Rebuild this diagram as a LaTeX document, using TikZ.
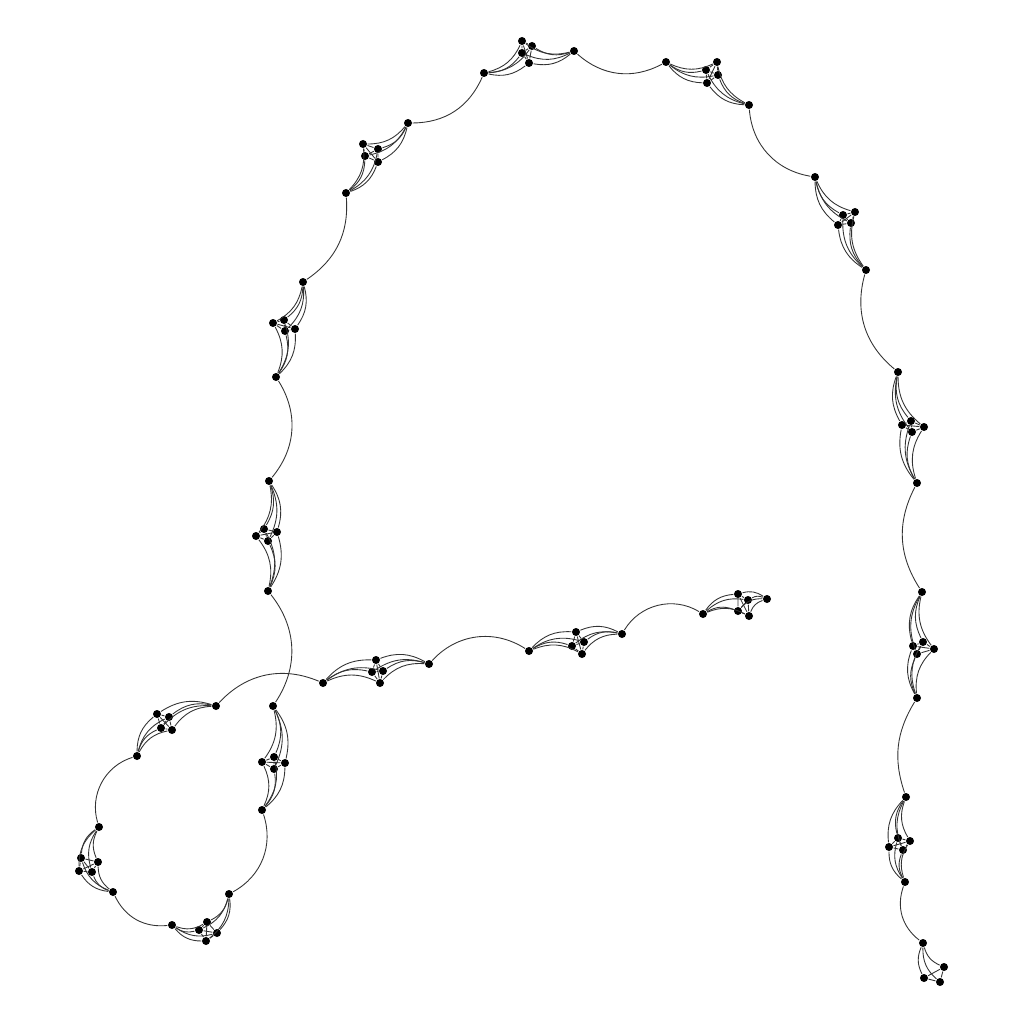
\documentclass[tikz,border=0pt]{standalone}
\begin{document}
\begin{tikzpicture}[x=0.1mm,y=-0.1mm,
    vtx/.style={circle,fill=black,inner sep=0pt,minimum size=0.8mm},
    ln/.style={line width=0.25pt,black!80}]
\useasboundingbox (0,0) rectangle (1024,1024);

% gadgets: x0 entry, x1..x4 inner, x5 exit
\node[vtx] (a0) at (767,599) {};
\node[vtx] (a1) at (738,594) {};
\node[vtx] (a2) at (748,600) {};
\node[vtx] (a3) at (738,611) {};
\node[vtx] (a4) at (749,616) {};
\node[vtx] (a5) at (703,614) {};

\node[vtx] (b0) at (622,634) {};
\node[vtx] (b1) at (576,632) {};
\node[vtx] (b2) at (584,642) {};
\node[vtx] (b3) at (572,646) {};
\node[vtx] (b4) at (582,654) {};
\node[vtx] (b5) at (529,651) {};

\node[vtx] (c0) at (429,664) {};
\node[vtx] (c1) at (376,660) {};
\node[vtx] (c2) at (383,671) {};
\node[vtx] (c3) at (372,672) {};
\node[vtx] (c4) at (380,683) {};
\node[vtx] (c5) at (323,683) {};

\node[vtx] (d0) at (216,706) {};
\node[vtx] (d1) at (157,714) {};
\node[vtx] (d2) at (169,717) {};
\node[vtx] (d3) at (161,728) {};
\node[vtx] (d4) at (172,730) {};
\node[vtx] (d5) at (137,756) {};

\node[vtx] (e0) at (99,827) {};
\node[vtx] (e1) at (81,858) {};
\node[vtx] (e2) at (98,862) {};
\node[vtx] (e3) at (79,871) {};
\node[vtx] (e4) at (92,872) {};
\node[vtx] (e5) at (113,892) {};

\node[vtx] (f0) at (172,925) {};
\node[vtx] (f1) at (207,922) {};
\node[vtx] (f2) at (199,930) {};
\node[vtx] (f3) at (217,933) {};
\node[vtx] (f4) at (206,941) {};
\node[vtx] (f5) at (229,894) {};

\node[vtx] (g0) at (262,810) {};
\node[vtx] (g1) at (274,757) {};
\node[vtx] (g2) at (262,762) {};
\node[vtx] (g3) at (285,763) {};
\node[vtx] (g4) at (274,769) {};
\node[vtx] (g5) at (273,706) {};

\node[vtx] (h0) at (268,591) {};
\node[vtx] (h1) at (264,529) {};
\node[vtx] (h2) at (256,536) {};
\node[vtx] (h3) at (277,532) {};
\node[vtx] (h4) at (268,541) {};
\node[vtx] (h5) at (269,481) {};

\node[vtx] (i0) at (276,377) {};
\node[vtx] (i1) at (273,323) {};
\node[vtx] (i2) at (284,320) {};
\node[vtx] (i3) at (285,331) {};
\node[vtx] (i4) at (295,329) {};
\node[vtx] (i5) at (303,282) {};

\node[vtx] (j0) at (346,193) {};
\node[vtx] (j1) at (363,144) {};
\node[vtx] (j2) at (378,149) {};
\node[vtx] (j3) at (365,156) {};
\node[vtx] (j4) at (378,162) {};
\node[vtx] (j5) at (408,123) {};

\node[vtx] (k0) at (484,73) {};
\node[vtx] (k1) at (522,41) {};
\node[vtx] (k2) at (532,46) {};
\node[vtx] (k3) at (522,53) {};
\node[vtx] (k4) at (529,63) {};
\node[vtx] (k5) at (574,51) {};

\node[vtx] (l0) at (666,62) {};
\node[vtx] (l1) at (706,70) {};
\node[vtx] (l2) at (717,62) {};
\node[vtx] (l3) at (718,75) {};
\node[vtx] (l4) at (707,83) {};
\node[vtx] (l5) at (749,105) {};

\node[vtx] (m0) at (815,177) {};
\node[vtx] (m1) at (843,215) {};
\node[vtx] (m2) at (855,212) {};
\node[vtx] (m3) at (838,225) {};
\node[vtx] (m4) at (851,223) {};
\node[vtx] (m5) at (866,270) {};

\node[vtx] (n0) at (898,372) {};
\node[vtx] (n1) at (902,425) {};
\node[vtx] (n2) at (911,421) {};
\node[vtx] (n3) at (912,432) {};
\node[vtx] (n4) at (924,427) {};
\node[vtx] (n5) at (917,483) {};

\node[vtx] (o0) at (922,592) {};
\node[vtx] (o1) at (913,646) {};
\node[vtx] (o2) at (923,642) {};
\node[vtx] (o3) at (917,654) {};
\node[vtx] (o4) at (934,649) {};
\node[vtx] (o5) at (917,698) {};

\node[vtx] (p0) at (906,797) {};
\node[vtx] (p1) at (898,838) {};
\node[vtx] (p2) at (910,841) {};
\node[vtx] (p3) at (889,847) {};
\node[vtx] (p4) at (903,850) {};
\node[vtx] (p5) at (905,882) {};

% last piece
\node[vtx] (q0) at (923,943) {};
\node[vtx] (q1) at (944,967) {};
\node[vtx] (q2) at (924,978) {};
\node[vtx] (q3) at (940,982) {};

% inside the gadgets
\foreach \g in {a,b,c,d,e,f,g,h,i,j,k,l,m,n,o,p}{
    \foreach \i in {1,...,4}{
        \draw[ln] (\g0) to[bend right=25] (\g\i);
        \draw[ln] (\g\i) to[bend right=25] (\g5);
    }
    \draw[ln] (\g1) -- (\g2) -- (\g4) -- (\g3) -- (\g1) -- (\g4);
    \draw[ln] (\g2) -- (\g3);
}
\foreach \i in {1,2,3}
    \draw[ln] (q0) to[bend right=25] (q\i);
\draw[ln] (q1) -- (q2) -- (q3) -- (q1);

% long arcs between gadgets
\draw[ln] (a5) to[bend right=45] (b0);
\draw[ln] (b5) to[bend right=40] (c0);
\draw[ln] (c5) to[bend right=35] (d0);
\draw[ln] (d5) to[bend right=45] (e0);
\draw[ln] (e5) to[bend right=35] (f0);
\draw[ln] (f5) to[bend right=40] (g0);
\draw[ln] (g5) to[bend right=36] (h0);
\draw[ln] (h5) to[bend right=36] (i0);
\draw[ln] (i5) to[bend right=30] (j0);
\draw[ln] (j5) to[bend right=33] (k0);
\draw[ln] (k5) to[bend right=35] (l0);
\draw[ln] (l5) to[bend right=38] (m0);
\draw[ln] (m5) to[bend right=33] (n0);
\draw[ln] (n5) to[bend right=30] (o0);
\draw[ln] (o5) to[bend right=25] (p0);
\draw[ln] (p5) to[bend right=36] (q0);
\end{tikzpicture}
\end{document}
